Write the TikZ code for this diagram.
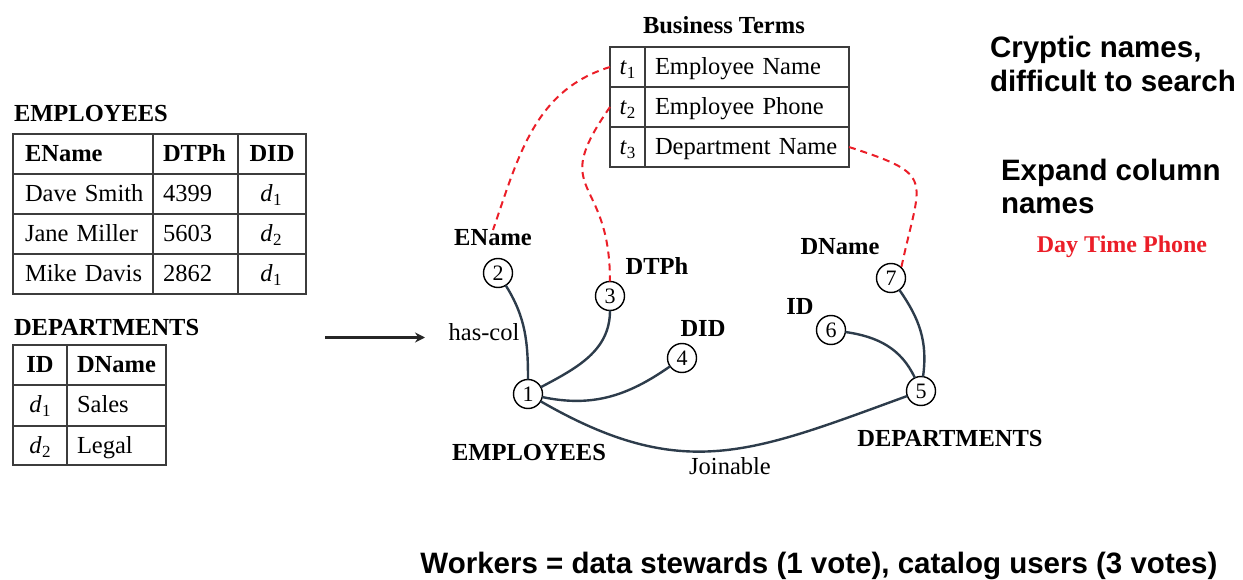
\documentclass[tikz,border=0pt]{standalone}
\usepackage{fontspec}
\usepackage{graphicx}
\setmainfont{Liberation Serif}
\newfontfamily\notefont{Liberation Sans}
\usetikzlibrary{arrows.meta}
\definecolor{edgecol}{RGB}{45,60,75}
\definecolor{gridcol}{RGB}{60,60,60}
\definecolor{linkred}{RGB}{235,30,40}
% italic symbol with an upright subscript digit
\newcommand{\symsub}[2]{{\itshape #1}\kern0.5pt\raisebox{-4pt}{\fontsize{17}{17}\selectfont #2}}

\begin{document}
\begin{tikzpicture}[x=1pt,y=1pt,
  every node/.style={inner sep=0pt, outer sep=0pt},
  txt/.style={font=\fontsize{24.5}{28}\selectfont},
  hd/.style={font=\fontsize{24.5}{28}\selectfont\bfseries},
  cellL/.style={txt, anchor=west, minimum height=40pt, text height=19pt, text depth=4pt,
                align=left, inner xsep=#1, text width=190pt},
  cellC/.style={txt, minimum height=40pt, text height=19pt, text depth=4pt,
                minimum width=#1},
  grid/.style={draw=gridcol, line width=1.6pt},
  vert/.style={circle, draw=black, line width=1.4pt, minimum size=29pt,
               font=\fontsize{22}{24}\selectfont},
  edge/.style={draw=edgecol, line width=2.4pt},
  link/.style={draw=linkred, line width=2pt, dash pattern=on 7pt off 5pt},
  note/.style={font=\notefont\bfseries\fontsize{29.5}{34}\selectfont, anchor=base west},
]
\useasboundingbox (0,0) rectangle (1243,-580);

% ---------- EMPLOYEES table ----------
\node[hd, anchor=base west] (empT) at (14,-122) {EMPLOYEES};
\draw[grid] (13,-134) rectangle (306,-294);
\foreach \yy in {174,214,254} \draw[grid] (13,-\yy) -- (306,-\yy);
\draw[grid] (153,-134) -- (153,-294);
\draw[grid] (238,-134) -- (238,-294);

\node[cellL=12pt] (e01) at (13,-154) {\textbf{EName}};
\node[cellL=10pt] (e02) at (153,-154) {\textbf{DTPh}};
\node[cellC=68pt] (e03) at (272,-154) {\textbf{DID}};
\node[cellL=12pt] (e11) at (13,-194) {Dave Smith};
\node[cellL=10pt] (e12) at (153,-194) {4399};
\node[cellC=68pt] (e13) at (271,-194) {\symsub{d}{1}};
\node[cellL=12pt] (e21) at (13,-234) {Jane Miller};
\node[cellL=10pt] (e22) at (153,-234) {5603};
\node[cellC=68pt] (e23) at (271,-234) {\symsub{d}{2}};
\node[cellL=12pt] (e31) at (13,-274) {Mike Davis};
\node[cellL=10pt] (e32) at (153,-274) {2862};
\node[cellC=68pt] (e33) at (271,-274) {\symsub{d}{1}};

% ---------- DEPARTMENTS table ----------
\node[hd, anchor=base west] (depT) at (14,-335) {DEPARTMENTS};
\draw[grid] (13,-345) rectangle (166,-465);
\draw[grid] (13,-385) -- (166,-385);
\draw[grid] (13,-426) -- (166,-426);
\draw[grid] (67,-345) -- (67,-465);

\node[cellC=54pt] (d01) at (40,-365) {\textbf{ID}};
\node[cellL=10pt] (d02) at (67,-365) {\textbf{DName}};
\node[cellC=54pt] (d11) at (40,-405) {\symsub{d}{1}};
\node[cellL=10pt] (d12) at (67,-405) {Sales};
\node[cellC=54pt] (d21) at (40,-445.5) {\symsub{d}{2}};
\node[cellL=10pt] (d22) at (67,-445.5) {Legal};

% ---------- arrow ----------
\coordinate (arrA) at (325,-337.5);
\coordinate (arrB) at (425,-337.5);
\draw[line width=2.2pt, draw=black!85, -{Stealth[length=10pt,width=10pt]}] (arrA) -- (arrB);

% ---------- Business terms ----------
\node[hd, anchor=base west] (busT) at (643,-34) {Business Terms};
\draw[grid] (610,-47) rectangle (849,-167);
\draw[grid] (610,-87) -- (849,-87);
\draw[grid] (610,-127) -- (849,-127);
\draw[grid] (645,-47) -- (645,-167);

\node[cellC=35pt] (bt1) at (627.5,-67) {\symsub{t}{1}};
\node[cellL=10pt] (bn1) at (645,-67) {Employee Name};
\node[cellC=35pt] (bt2) at (627.5,-107) {\symsub{t}{2}};
\node[cellL=10pt] (bn2) at (645,-107) {Employee Phone};
\node[cellC=35pt] (bt3) at (627.5,-147) {\symsub{t}{3}};
\node[txt, minimum height=40pt, minimum width=204pt, text height=19pt, text depth=4pt,
      align=left, text width=184pt, inner xsep=10pt] (bn3) at (747,-147) {Department Name};

% ---------- schema graph ----------
\node[vert] (n1) at (528,-394) {1};
\node[vert] (n2) at (498,-273) {2};
\node[vert] (n3) at (610,-296) {3};
\node[vert] (n4) at (682,-358) {4};
\node[vert] (n5) at (921,-391) {5};
\node[vert] (n6) at (831,-330) {6};
\node[vert] (n7) at (891,-278) {7};

\node[hd, anchor=base] (l2) at (493,-246) {EName};
\node[hd, anchor=base] (l3) at (657,-275) {DTPh};
\node[hd, anchor=base] (l4) at (703,-336) {DID};
\node[hd, anchor=base] (l1) at (529,-460) {EMPLOYEES};
\node[hd, anchor=base] (l7) at (840,-255) {DName};
\node[hd, anchor=base] (l6) at (800,-314) {ID};
\node[hd, anchor=base] (l5) at (950,-446) {DEPARTMENTS};
\node[txt, anchor=base] (hascol) at (484,-341) {has-col};
\node[txt, anchor=base] (join) at (730,-474) {Joinable};

\draw[edge] (n2) to[out=-58, in=90] (n1);
\draw[edge] (n1) to[out=28, in=-90] (n3);
\draw[edge] (n1) to[out=-12, in=-145] (n4);
\draw[edge] (n1) to[out=-30, in=-160, looseness=1.15] (n5);
\draw[edge] (n6) to[out=-8, in=115] (n5);
\draw[edge] (n7) to[out=-55, in=82] (n5);

% ---------- links from business terms ----------
\draw[link] (bt1.west) to[out=197, in=71] (l2.north);
\draw[link] (bt2.west) to[out=235, in=90, looseness=1.6] (n3.north);
\draw[link] (bn3.east) to[out=-18, in=78, looseness=1.8] (n7.north east);

% ---------- notes ----------
\node[note] (c1) at (990,-58) {Cryptic names,};
\node[note] (c2) at (990,-92) {difficult to search};
\node[note] (x1) at (1001,-181) {Expand column};
\node[note] (x2) at (1001,-214) {names};
\node[anchor=base, text=linkred, font=\fontsize{24}{28}\selectfont\bfseries] (dtp) at (1122,-253) {Day Time Phone};
\node[note, anchor=base] (wk) at (819,-573) {Workers = data stewards (1 vote), catalog users (3 votes)};
\end{tikzpicture}
\end{document}
